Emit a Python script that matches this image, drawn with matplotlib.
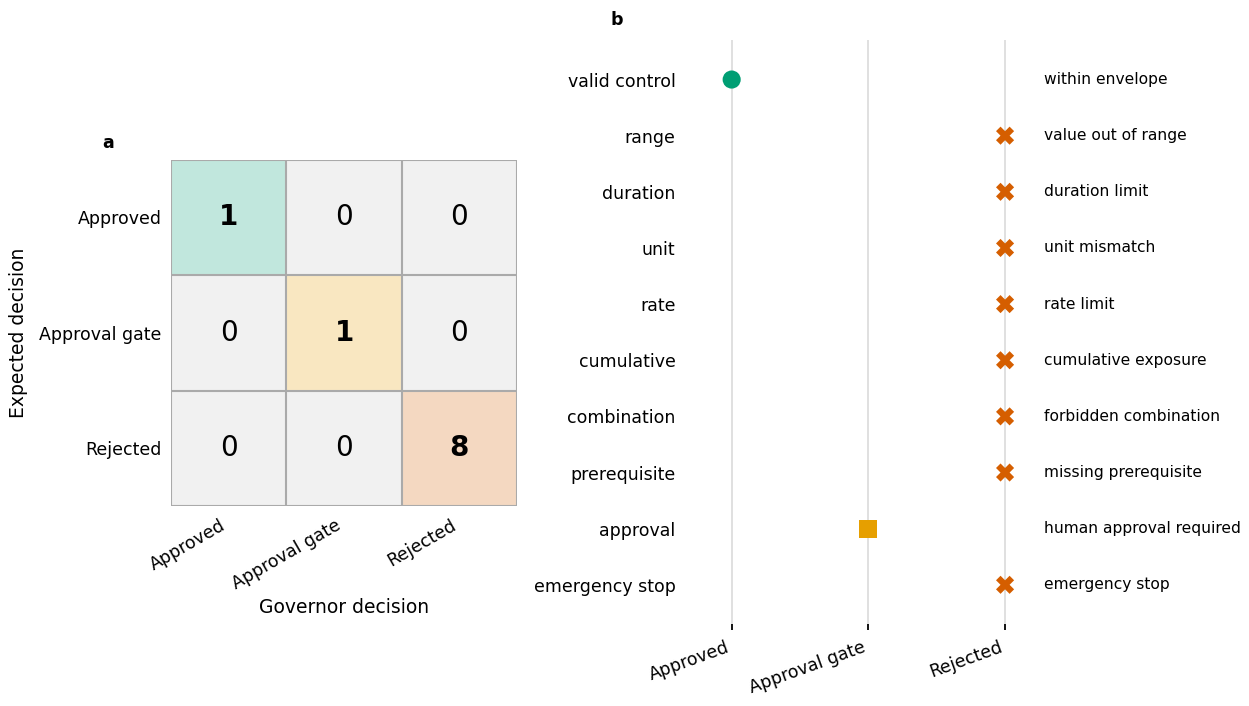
import numpy as np
import matplotlib.pyplot as plt
from matplotlib.colors import to_rgb

decisions = ['Approved', 'Approval gate', 'Rejected']
confusion = np.array([[1, 0, 0],
                      [0, 1, 0],
                      [0, 0, 8]])

checks = ['valid control', 'range', 'duration', 'unit', 'rate', 'cumulative',
          'combination', 'prerequisite', 'approval', 'emergency stop']
outcome = [0, 2, 2, 2, 2, 2, 2, 2, 1, 2]
reasons = ['within envelope', 'value out of range', 'duration limit', 'unit mismatch',
           'rate limit', 'cumulative exposure', 'forbidden combination',
           'missing prerequisite', 'human approval required', 'emergency stop']

class_colors = ['#009E73', '#E69F00', '#D55E00']
class_markers = ['o', 's', 'X']

fig = plt.figure(figsize=(12.49, 7.06), dpi=100)

# panel a: confusion matrix
ax = fig.add_axes([0.137, 0.283, 0.277, 0.491])
rgb = np.zeros((3, 3, 3))
for i in range(3):
    for j in range(3):
        if i == j and confusion[i, j] > 0:
            c = np.array(to_rgb(class_colors[i]))
            rgb[i, j] = 0.24 * c + 0.76
        else:
            rgb[i, j] = to_rgb('#f1f1f1')
ax.imshow(rgb, aspect='auto')
for k in range(4):
    ax.axhline(k - 0.5, color='#aaaaaa', lw=1.5)
    ax.axvline(k - 0.5, color='#aaaaaa', lw=1.5)
for i in range(3):
    for j in range(3):
        ax.text(j, i, str(confusion[i, j]), ha='center', va='center', fontsize=20,
                fontweight='bold' if i == j else 'normal')
ax.set_xticks(range(3))
ax.set_xticklabels(decisions, rotation=30, ha='right', fontsize=12.5)
ax.set_yticks(range(3))
ax.set_yticklabels(decisions, fontsize=12.5)
ax.tick_params(length=0, pad=7)
for s in ax.spines.values():
    s.set_visible(False)
ax.set_xlabel('Governor decision', fontsize=13.5, labelpad=4)
ax.set_ylabel('Expected decision', fontsize=13.5, labelpad=8)
ax.set_xlim(-0.5, 2.5)
ax.set_ylim(2.5, -0.5)
fig.text(0.082, 0.79, 'a', fontsize=12.5, fontweight='bold')

# panel b: per-check outcomes
bx = fig.add_axes([0.5475, 0.116, 0.2955, 0.827])
for k in range(3):
    bx.axvline(k, color='#dddddd', lw=1.3, zorder=0)
for i, (o, r) in enumerate(zip(outcome, reasons)):
    bx.scatter(o, i, marker=class_markers[o], s=170, color=class_colors[o],
               edgecolors='none', zorder=3)
    bx.text(2.285, i, r, va='center', ha='left', fontsize=11.2)
bx.set_xlim(-0.35, 2.35)
bx.set_ylim(9.7, -0.7)
bx.set_xticks(range(3))
bx.set_xticklabels(decisions, rotation=20, ha='right', fontsize=12.5)
bx.set_yticks(range(len(checks)))
bx.set_yticklabels(checks, fontsize=12.5)
bx.tick_params(axis='y', length=0, pad=6)
bx.tick_params(axis='x', length=4, width=1.3, pad=6)
for s in bx.spines.values():
    s.set_visible(False)
fig.text(0.489, 0.965, 'b', fontsize=12.5, fontweight='bold')

fig.savefig('out.png', dpi=100)
